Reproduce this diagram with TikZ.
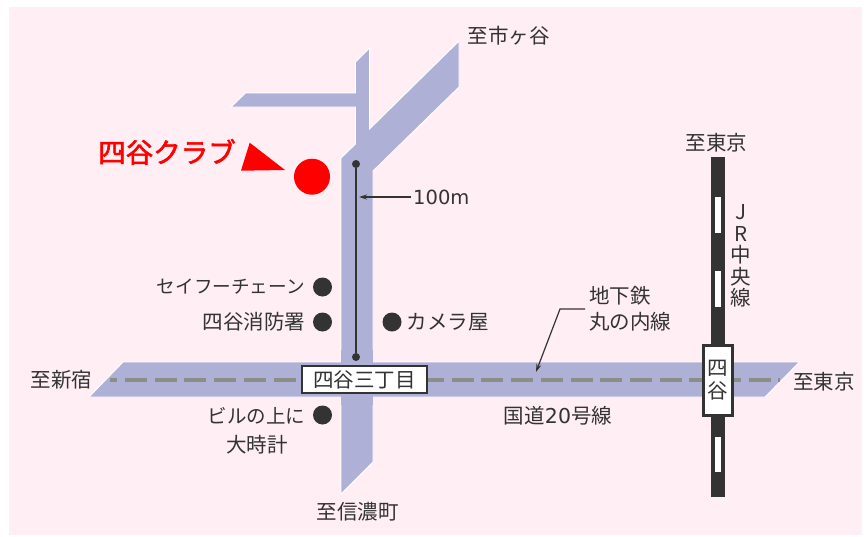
\documentclass[tikz,border=0pt]{standalone}
\usepackage{fontspec}
\setmainfont{Noto Sans CJK JP}
\newfontfamily\latinfont{DejaVu Sans}
\newfontfamily\clubfont[FakeBold=2.2]{Noto Sans CJK JP}
\usetikzlibrary{arrows.meta}
\definecolor{bgpink}{HTML}{FFEEF3}
\definecolor{road}{HTML}{AFB0D6}
\definecolor{ink}{HTML}{333333}
\definecolor{dashgray}{HTML}{8C8C88}
\tikzset{
  lbl/.style={inner sep=0pt,text=ink,font=\fontsize{20.5}{22}\selectfont},
  roadshape/.style={fill=road,draw=white,line width=0.9pt,line join=miter},
  spot/.style={circle,fill=ink,draw=none,minimum size=19pt,inner sep=0pt},
  pin/.style={circle,fill=ink,draw=none,minimum size=8pt,inner sep=0pt},
  leader/.style={draw=ink,line width=1.2pt},
  tipped/.style={leader,-{Stealth[length=8pt,width=5pt]}},
  window/.style={fill=white,draw=none},
}
\begin{document}
\begin{tikzpicture}[x=1pt,y=-1pt]
\useasboundingbox (0,0) rectangle (864,536);
\fill[white] (0,0) rectangle (864,536);
\fill[bgpink] (9,7) rectangle (862,535);
% roads
\draw[roadshape] (341,158) -- (355.5,144) -- (355.5,107) -- (231,107) -- (245.5,93) -- (355.5,93) -- (355.5,62) -- (369.5,48) -- (369.5,129) -- (459,41) -- (459,87) -- (373,171) -- (373,462) -- (341,494) -- cycle;
\draw[roadshape] (89,397) -- (123,362) -- (799.5,362) -- (765,397) -- cycle;
\fill[road] (341.4,350) rectangle (372.6,405);
% subway
\draw[dashgray,line width=4pt,dash pattern=on 7pt off 8pt] (110,379.5) -- (125,379.5);
\draw[dashgray,line width=4pt,dash pattern=on 22pt off 7.7pt] (125,379.5) -- (780,379.5);
% rail
\fill[ink] (711,157) rectangle (724.5,497);
\fill[window] (714.5,197) rectangle (721,233);
\fill[window] (714.5,271) rectangle (721,307);
\fill[window] (714.5,437) rectangle (721,472);
\node[draw=ink,line width=3pt,fill=white,minimum width=29pt,minimum height=70pt,inner sep=0pt,align=center,text=ink,font=\fontsize{20.5}{23}\selectfont] (yotsuya) at (718,380.5) {四\\谷};
% club marker
\node[circle,fill=red,minimum size=36pt,inner sep=0pt] (club) at (312,176.7) {};
\fill[red] (249.7,142.7) -- (285,170) -- (241,170.7) -- cycle;
\node[inner sep=0pt,text=red,font=\clubfont\fontsize{27.5}{30}\selectfont] (clubname) at (167,152) {四谷クラブ};
% 100m scale
\node[pin] (north) at (356,164) {};
\node[pin] (south) at (356,357) {};
\draw[leader] (north) -- (south);
\node[lbl,font=\latinfont\fontsize{19.5}{21}\selectfont,anchor=west] (hundred) at (413,197) {100m};
\draw[tipped] (hundred.west) ++(-2,0) coordinate (hs) -- (359,197);
% sign
\node[draw=ink,line width=1.4pt,fill=white,minimum width=125pt,minimum height=27pt,inner sep=0pt,text=ink,font=\fontsize{20.5}{22}\selectfont] (sign) at (364.5,379.5) {四谷三丁目};
% landmark dots
\node[spot] (d1) at (322.5,287) {};
\node[spot] (d2) at (322.5,322) {};
\node[spot] (d3) at (322.5,415) {};
\node[spot] (d4) at (392,322) {};
% labels
\node[lbl,anchor=east,font=\fontsize{18.6}{21}\selectfont] (chain) at (305,287) {セイフーチェーン};
\node[lbl,anchor=east] (fire) at (305.5,322) {四谷消防署};
\node[lbl,anchor=east,font=\fontsize{19.5}{21}\selectfont] (bldg) at (305.5,416) {ビルの上に};
\node[lbl] (clock) at (257,445) {大時計};
\node[lbl,anchor=west] (camera) at (406.5,322) {カメラ屋};
\node[lbl] (west) at (61.5,380) {至新宿};
\node[lbl] (south2) at (357.5,512) {至信濃町};
\node[lbl] (north2) at (508.5,36) {至市ヶ谷};
\node[lbl] (tokyo1) at (716.5,143) {至東京};
\node[lbl] (tokyo2) at (824,382) {至東京};
\node[lbl] (route) at (558,416) {国道{\latinfont 20}号線};
\node[lbl,anchor=west] (sub1) at (589,296) {地下鉄};
\node[lbl,anchor=west] (sub2) at (589,322) {丸の内線};
\node[lbl,align=center,font=\fontsize{20.5}{21.5}\selectfont] (jr) at (741,256) {J\\R\\中\\央\\線};
% subway leader
\coordinate (subend) at (585,309);
\coordinate (subbend) at (560,309);
\coordinate (subtip) at (536,372);
\draw[tipped] (subend) -- (subbend) -- (subtip);
\end{tikzpicture}
\end{document}
